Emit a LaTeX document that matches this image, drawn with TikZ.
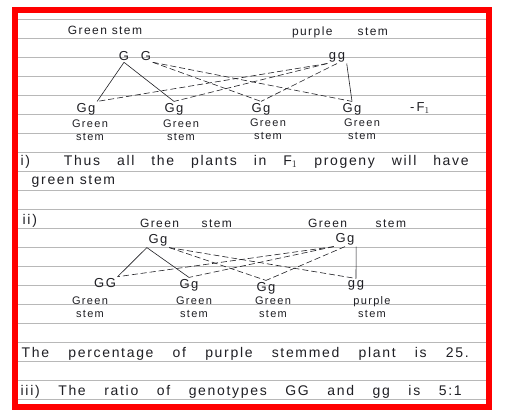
\documentclass[tikz,border=0pt]{standalone}
\usepackage{fontspec}
\setmainfont{Liberation Sans}
\newfontfamily\handfont[LetterSpace=12]{Liberation Sans}
\definecolor{ink}{rgb}{0.12, 0.12, 0.14}
\definecolor{ruling}{rgb}{0.72, 0.72, 0.72}
\newcommand{\spread}[2]{\makebox[#1][s]{#2}}

\begin{document}
\begin{tikzpicture}[x=1pt, y=-1pt, every node/.style = {text=ink, inner sep=1.5pt},
    rule/.style = {ruling, line width=0.7pt},
    sent/.style = {anchor=west, font=\handfont\fontsize{14}{16}\selectfont},
    parent/.style = {font=\handfont\fontsize{12}{14}\selectfont},
    gene/.style = {font=\handfont\fontsize{13}{15}\selectfont},
    pheno/.style = {align=center, font=\handfont\fontsize{11}{13}\selectfont, inner sep=0pt},
    hand/.style = {ink, line width=0.6pt},
    hdash/.style = {hand, dash pattern=on 6pt off 3pt}]
  \useasboundingbox (0,0) rectangle (505,410);
  \fill[white] (0,0) rectangle (505,410);
  % ruled paper
  \foreach \k in {0,...,20}
    \draw[rule] (18,{19+19*\k}) -- (486,{19+19*\k});

  % i) cross
  \node[parent] (stA) at (105,30) {Green stem};
  \node[parent] (stB) at (340,32) {\spread{96pt}{purple stem}};
  \node[gene] (gL) at (124,56) {G};
  \node[gene] (gR) at (146,56) {G};
  \node[gene] (pB) at (337,57) {gg};
  \node[gene] (cA) at (86,109) {Gg};
  \node[gene] (cB) at (174,109) {Gg};
  \node[gene] (cC) at (261,109) {Gg};
  \node[gene] (cD) at (352,109) {Gg};
  \node[gene] (fone) at (420,108) {-\,F$_1$};
  \node[pheno] (hA) at (90,130) {Green\\stem};
  \node[pheno] (hB) at (181,130) {Green\\stem};
  \node[pheno] (hC) at (268,129) {Green\\stem};
  \node[pheno] (hD) at (362,129) {Green\\stem};
  \draw[hand] (gL.south) -- (cA.north east);
  \draw[hand] (gL.south) -- (cB.north);
  \draw[hdash] (gR.south east) -- (cC.north);
  \draw[hdash] (gR.south east) -- (cD.north);
  \draw[hdash] (pB.south west) -- (cA.north east);
  \draw[hdash] (pB.south west) -- (cB.north);
  \draw[hdash] (pB.south) -- (cC.north);
  \draw[hand] (pB.south east) -- (cD.north);
  \node[sent] (tA) at (19,162) {\spread{448pt}{i)\ \ Thus all the plants in F$_1$ progeny will have}};
  \node[sent] (tB) at (30,181) {green stem};

  % ii) cross
  \node[sent] (tC) at (21,221) {ii)};
  \node[parent] (stC) at (186,223) {\spread{92pt}{Green stem}};
  \node[parent] (stD) at (357,223) {\spread{98pt}{Green stem}};
  \node[gene] (qL) at (158,240) {Gg};
  \node[gene] (qR) at (345,239) {Gg};
  \node[gene] (dA) at (105,283) {GG};
  \node[gene] (dB) at (189,285) {Gg};
  \node[gene] (dC) at (266,288) {Gg};
  \node[gene] (dD) at (356,285) {gg};
  \node[pheno] (kA) at (90,307) {Green\\stem};
  \node[pheno] (kB) at (194,307) {Green\\stem};
  \node[pheno] (kC) at (273,307) {Green\\stem};
  \node[pheno] (kD) at (372,307) {purple\\stem};
  \draw[hand] (qL.south west) -- (dA.north east);
  \draw[hand] (qL.south west) -- (dB.north);
  \draw[hdash] (qL.south east) -- (dC.north);
  \draw[hdash] (qL.south east) -- (dD.north);
  \draw[hdash] (qR.south west) -- (dA.north east);
  \draw[hdash] (qR.south west) -- (dB.north);
  \draw[hdash] (qR.south) -- (dC.north);
  \draw[hand] (qR.south east) -- (dD.north);
  \node[sent] (tD) at (20,354) {\spread{447pt}{The percentage of purple stemmed plant is 25.}};
  \node[sent] (tE) at (19,392) {\spread{441pt}{iii) The ratio of genotypes GG and gg is 5:1}};

  % red frame
  \draw[red, line width=6pt] (15,10) rectangle (489,407);
\end{tikzpicture}
\end{document}
